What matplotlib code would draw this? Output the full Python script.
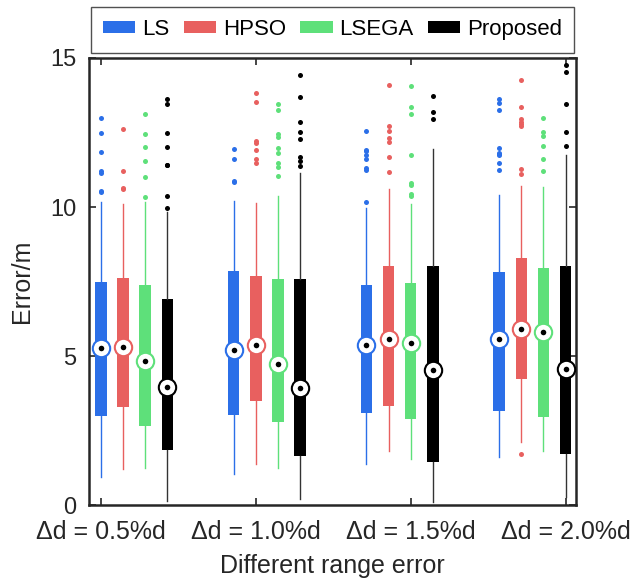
import numpy as np
import matplotlib
matplotlib.use("Agg")
import matplotlib.pyplot as plt
from matplotlib.patches import Patch

plt.rcParams['font.family'] = ['Liberation Sans', 'DejaVu Sans']

# chart data
groups = ["\u0394d = 0.5%d", "\u0394d = 1.0%d", "\u0394d = 1.5%d", "\u0394d = 2.0%d"]
methods = ["LS", "HPSO", "LSEGA", "Proposed"]
colors = ["#2b6fe8", "#e8605f", "#5ee07a", "#000000"]

ls_q1 = [2.99, 3.01, 3.08, 3.16]
ls_med = [5.27, 5.21, 5.36, 5.58]
ls_q3 = [7.48, 7.86, 7.38, 7.82]
ls_lo = [0.94, 1.03, 1.37, 1.62]
ls_hi = [10.17, 10.2, 9.96, 10.4]
ls_fliers = [[13.0, 12.5, 11.85, 11.2, 11.15, 10.55, 10.5],
             [11.95, 11.61, 10.88, 10.84],
             [12.54, 11.91, 11.87, 11.74, 11.61, 11.32, 11.24, 10.16],
             [13.61, 13.5, 13.26, 11.99, 11.82, 11.78, 11.73, 11.49, 11.23]]

hpso_q1 = [3.3, 3.5, 3.33, 4.23]
hpso_med = [5.31, 5.38, 5.57, 5.9]
hpso_q3 = [7.62, 7.68, 8.03, 8.3]
hpso_lo = [1.2, 1.36, 1.81, 2.1]
hpso_hi = [10.1, 10.12, 10.61, 10.7]
hpso_fliers = [[12.63, 11.2, 10.65, 10.6],
               [13.84, 13.51, 12.21, 12.15, 11.9, 11.61, 11.48],
               [14.08, 12.73, 12.55, 12.32, 12.17, 11.68, 11.17],
               [14.27, 13.36, 12.95, 12.86, 12.79, 12.72, 11.26, 11.1, 1.71]]

lsega_q1 = [2.65, 2.77, 2.89, 2.96]
lsega_med = [4.83, 4.72, 5.43, 5.82]
lsega_q3 = [7.38, 7.6, 7.44, 7.94]
lsega_lo = [1.24, 1.25, 1.54, 1.82]
lsega_hi = [10.18, 10.38, 10.1, 10.66]
lsega_fliers = [[13.13, 12.44, 12.03, 11.54, 11.02, 10.32],
                [13.47, 13.27, 12.45, 12.34, 11.97, 11.8, 11.49, 11.34, 11.05],
                [14.06, 13.37, 13.13, 11.76, 10.79, 10.75, 10.43, 10.38],
                [12.99, 12.52, 12.38, 12.05, 11.61, 11.21]]

prop_q1 = [1.85, 1.66, 1.43, 1.71]
prop_med = [3.97, 3.93, 4.53, 4.56]
prop_q3 = [6.9, 7.57, 8.02, 8.02]
prop_lo = [0.14, 0.2, 0.11, 0.28]
prop_hi = [9.82, 11.13, 11.94, 11.74]
prop_fliers = [[13.63, 13.46, 12.5, 12.0, 11.4, 11.4, 10.38, 9.98],
               [14.43, 13.69, 12.84, 12.52, 12.27, 11.69, 11.53, 11.38],
               [13.71, 13.2, 12.96],
               [14.77, 14.53, 13.45, 12.52, 12.04]]

all_stats = [
    (ls_q1, ls_med, ls_q3, ls_lo, ls_hi, ls_fliers),
    (hpso_q1, hpso_med, hpso_q3, hpso_lo, hpso_hi, hpso_fliers),
    (lsega_q1, lsega_med, lsega_q3, lsega_lo, lsega_hi, lsega_fliers),
    (prop_q1, prop_med, prop_q3, prop_lo, prop_hi, prop_fliers),
]

fig = plt.figure(figsize=(6.3, 5.8), dpi=100)
ax = fig.add_axes([0.1413, 0.1293, 0.7730, 0.7707])

tc = "#262626"
for m, (q1, med, q3, lo, hi, fl) in enumerate(all_stats):
    col = colors[m]
    wcol = "#333333" if m == 3 else col
    stats = []
    for g in range(len(groups)):
        stats.append({"q1": q1[g], "med": med[g], "q3": q3[g],
                      "whislo": lo[g], "whishi": hi[g], "fliers": fl[g]})
    pos = [6 * g + m for g in range(len(groups))]
    ax.bxp(stats, positions=pos, widths=0.52, patch_artist=True,
           showcaps=False, manage_ticks=False,
           boxprops=dict(facecolor=col, edgecolor="none"),
           whiskerprops=dict(color=wcol, linewidth=1.0),
           medianprops=dict(linewidth=0),
           flierprops=dict(marker="o", markersize=3.6, markerfacecolor=col,
                           markeredgecolor="none"))
    # median: white ring with a black dot in the middle
    ax.plot(pos, med, "o", ms=12.5, mfc="white", mec=col, mew=1.5, zorder=5)
    ax.plot(pos, med, "o", ms=4, mfc="black", mec="none", zorder=6)

ax.set_xlim(-0.54, 21.47)
ax.set_ylim(0, 15)
ax.set_xticks([0, 7, 14, 21])
ax.set_xticklabels(groups)
ax.set_yticks([0, 5, 10, 15])
ax.tick_params(direction="in", length=5, width=1.2, colors=tc,
               top=True, right=True, labelsize=18)
ax.tick_params(axis="x", pad=11)
ax.tick_params(axis="y", pad=9, labelsize=17)
for sp in ax.spines.values():
    sp.set_linewidth(1.8)
    sp.set_color(tc)

ax.set_xlabel("Different range error", fontsize=18, color=tc, labelpad=7)
ax.set_ylabel("Error/m", fontsize=18, color=tc, labelpad=12)

handles = [Patch(facecolor=c, edgecolor="none") for c in colors]
leg = ax.legend(handles, methods, loc="center", bbox_to_anchor=(0.5, 1.063),
                ncol=4, fontsize=16, frameon=True, fancybox=False,
                handlelength=1.45, handleheight=0.45, handletextpad=0.3,
                columnspacing=0.65, borderpad=0.55, borderaxespad=0)
leg.get_frame().set_edgecolor("#262626")
leg.get_frame().set_linewidth(1.0)

fig.savefig("out.png", dpi=100)
